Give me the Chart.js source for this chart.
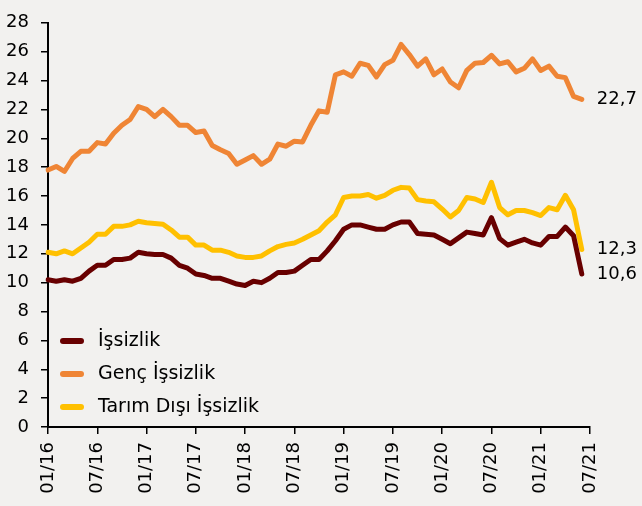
<!DOCTYPE html>
<html lang="tr">
<head>
<meta charset="utf-8">
<script src="https://cdn.jsdelivr.net/npm/chart.js@4.4.1/dist/chart.umd.min.js"></script>
<style>
  html, body { margin: 0; padding: 0; background: #f2f1ef; }
  #chart { display: block; }
</style>
</head>
<body>
<canvas id="chart" width="642" height="506"></canvas>
<script>
// monthly categories 01/16 .. 07/21
const years = ['16', '17', '18', '19', '20', '21'];
const months = [];
years.forEach((y) => {
  for (let m = 1; m <= 12; m++) months.push(String(m).padStart(2, '0') + '/' + y);
});
months.length = 67;

const unemployment = [
  10.2, 10.1, 10.2, 10.1, 10.3, 10.8, 11.2, 11.2, 11.6, 11.6, 11.7, 12.1,
  12.0, 11.95, 11.95, 11.7, 11.2, 11.0, 10.6, 10.5, 10.3, 10.3, 10.1, 9.9,
  9.8, 10.1, 10.0, 10.3, 10.7, 10.7, 10.8, 11.2, 11.6, 11.6, 12.2, 12.9,
  13.7, 14.0, 14.0, 13.85, 13.7, 13.7, 14.0, 14.2, 14.2, 13.4, 13.35, 13.3,
  13.0, 12.7, 13.1, 13.5, 13.4, 13.3, 14.5, 13.05, 12.6, 12.8, 13.0, 12.75,
  12.6, 13.2, 13.2, 13.85, 13.25, 10.6,
];

const youthUnemployment = [
  17.8, 18.05, 17.7, 18.6, 19.1, 19.1, 19.7, 19.6, 20.35, 20.9, 21.3, 22.2,
  22.0, 21.5, 22.0, 21.5, 20.9, 20.9, 20.4, 20.5, 19.5, 19.2, 18.95, 18.2,
  18.5, 18.8, 18.2, 18.55, 19.6, 19.45, 19.8, 19.75, 20.9, 21.9, 21.8, 24.4,
  24.6, 24.3, 25.2, 25.05, 24.25, 25.1, 25.4, 26.5, 25.8, 25.0, 25.5, 24.4,
  24.8, 23.9, 23.5, 24.7, 25.2, 25.25, 25.75, 25.15, 25.3, 24.6, 24.85, 25.5,
  24.7, 25.0, 24.3, 24.2, 22.9, 22.7,
];

const nonFarmUnemployment = [
  12.1, 12.0, 12.2, 12.0, 12.4, 12.8, 13.35, 13.35, 13.9, 13.9, 14.0, 14.25,
  14.15, 14.1, 14.05, 13.65, 13.15, 13.15, 12.6, 12.6, 12.25, 12.25, 12.1, 11.85,
  11.75, 11.75, 11.85, 12.2, 12.5, 12.65, 12.75, 13.0, 13.3, 13.6, 14.2, 14.7,
  15.9, 16.0, 16.0, 16.1, 15.85, 16.05, 16.4, 16.6, 16.55, 15.75, 15.65, 15.6,
  15.1, 14.55, 15.0, 15.9, 15.8, 15.55, 16.95, 15.2, 14.7, 15.0, 15.0, 14.85,
  14.65, 15.2, 15.05, 16.05, 15.05, 12.3,
];

const FONT = '"DejaVu Sans", sans-serif';

function line(label, data, color) {
  return {
    label,
    data,
    borderColor: color,
    backgroundColor: color,
    borderWidth: 5,
    pointRadius: 0,
    tension: 0,
    borderJoinStyle: 'round',
    borderCapStyle: 'round',
  };
}

// value labels at the end of each line
const endLabels = {
  id: 'endLabels',
  afterDatasetsDraw(chart) {
    const { ctx } = chart;
    ctx.save();
    ctx.font = '18px ' + FONT;
    ctx.fillStyle = '#000';
    ctx.textBaseline = 'middle';
    chart.data.datasets.forEach((ds, i) => {
      const last = ds.data.length - 1;
      const pt = chart.getDatasetMeta(i).data[last];
      ctx.fillText(ds.data[last].toFixed(1).replace('.', ','), pt.x + 15, pt.y);
    });
    ctx.restore();
  },
};

// legend inside the plot, bottom left
const innerLegend = {
  id: 'innerLegend',
  afterDraw(chart) {
    const { ctx, chartArea } = chart;
    ctx.save();
    ctx.font = '19px ' + FONT;
    ctx.textBaseline = 'middle';
    chart.data.datasets.forEach((ds, i) => {
      const y = chartArea.bottom - 86 + i * 33;
      const x = chartArea.left + 15;
      ctx.strokeStyle = ds.borderColor;
      ctx.lineWidth = 6;
      ctx.lineCap = 'round';
      ctx.beginPath();
      ctx.moveTo(x, y);
      ctx.lineTo(x + 18, y);
      ctx.stroke();
      ctx.fillStyle = '#000';
      ctx.fillText(ds.label, x + 35, y);
    });
    ctx.restore();
  },
};

new Chart(document.getElementById('chart'), {
  type: 'line',
  data: {
    labels: months,
    datasets: [
      line('İşsizlik', unemployment, '#680000'),
      line('Genç İşsizlik', youthUnemployment, '#ef8535'),
      line('Tarım Dışı İşsizlik', nonFarmUnemployment, '#ffc000'),
    ],
  },
  options: {
    responsive: false,
    animation: false,
    devicePixelRatio: 1,
    layout: { padding: { top: 13, right: 52, left: 0, bottom: 0 } },
    plugins: {
      legend: { display: false },
      tooltip: { enabled: false },
    },
    scales: {
      x: {
        offset: false,
        afterFit(scale) { scale.height = 79; },
        grid: { drawOnChartArea: false, drawTicks: true, tickLength: 7, color: '#000', lineWidth: 1.5 },
        border: { display: true, color: '#000', width: 2 },
        ticks: {
          autoSkip: false,
          minRotation: 90,
          maxRotation: 90,
          padding: 8,
          color: '#000',
          font: { family: FONT, size: 18 },
          callback(value, index) {
            return index % 6 === 0 ? this.getLabelForValue(value) : null;
          },
        },
      },
      y: {
        min: 0,
        max: 28,
        afterFit(scale) { scale.width = 48; },
        grid: { drawOnChartArea: false, drawTicks: true, tickLength: 7, color: '#000', lineWidth: 1.5 },
        border: { display: true, color: '#000', width: 2 },
        ticks: {
          stepSize: 2,
          padding: 12,
          color: '#000',
          font: { family: FONT, size: 18 },
        },
      },
    },
  },
  plugins: [endLabels, innerLegend],
});
</script>
</body>
</html>
